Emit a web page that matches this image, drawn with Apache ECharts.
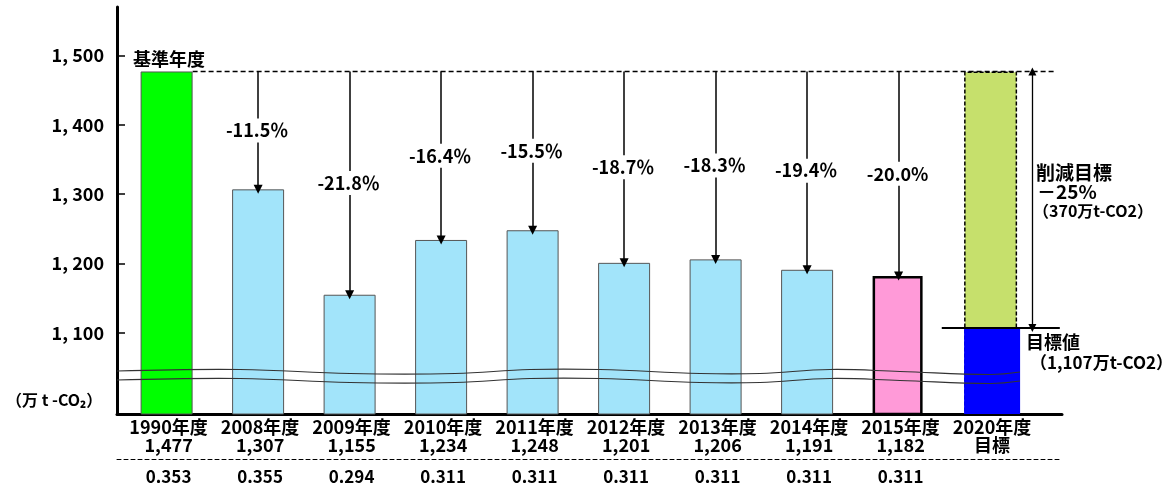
<!DOCTYPE html>
<html>
<head>
<meta charset="utf-8">
<script src="https://cdn.jsdelivr.net/npm/echarts@6/dist/echarts.min.js"></script>
<style>
html,body{margin:0;padding:0;background:#fff;}
#c{width:1166px;height:488px;}
</style>
</head>
<body>
<div id="c"></div>
<script>
// ---- data ----
const categories = ['1990年度','2008年度','2009年度','2010年度','2011年度','2012年度','2013年度','2014年度','2015年度','2020年度'];
const valueLabels = ['1,477','1,307','1,155','1,234','1,248','1,201','1,206','1,191','1,182','目標'];
const emissions = [1477, 1307, 1155, 1234, 1248, 1201, 1206, 1191, 1182];
const factors = ['0.353','0.355','0.294','0.311','0.311','0.311','0.311','0.311','0.311'];
const changes = ['-11.5％','-21.8％','-16.4％','-15.5％','-18.7％','-18.3％','-19.4％','-20.0%'];
const targetValue = 1107;
const reduction = 370;
const yTicks = [1100, 1200, 1300, 1400, 1500];

// ---- chart ----
const FONT = '"Noto Sans CJK JP", "Noto Sans", sans-serif';
const base = emissions[0];
const idx = categories.map((_, i) => i);
const halfBar = 26 / 91.5;

const chart = echarts.init(document.getElementById('c'), null, {renderer: 'canvas'});

const arrowLines = emissions.slice(1).map((v, k) => [
  {coord: [k + 1, base]},
  {coord: [k + 1, v]}
]);
const arrowLabels = emissions.slice(1).map((v, k) => ({
  coord: [k + 1, (base + v) / 2],
  value: changes[k]
}));

const wavyTop = [[117,371],[240,369.5],[350,373.5],[455,373.5],[530,369.5],[600,369.5],[700,373.5],[760,373.5],[830,369.5],[900,371.5],[990,374.5],[1020,372]];
const wavyBot = wavyTop.map(p => [p[0], p[1] + 9]);

const option = {
  animation: false,
  backgroundColor: '#fff',
  textStyle: {fontFamily: FONT},
  grid: {left: 117, right: 104, top: 7, bottom: 74, containLabel: false},
  xAxis: [{
    type: 'value', min: -0.564, max: 9.764,
    splitLine: {show: false},
    axisTick: {show: false},
    axisLine: {show: true, onZero: false, lineStyle: {color: '#000', width: 3}},
    axisLabel: {
      customValues: idx,
      margin: 4,
      color: '#000', fontSize: 18, fontWeight: 'bold', lineHeight: 18, fontFamily: FONT,
      formatter: v => categories[Math.round(v)] + '\n' + valueLabels[Math.round(v)]
    }
  }, {
    type: 'value', min: -0.564, max: 9.764, position: 'bottom', offset: 45,
    splitLine: {show: false},
    axisTick: {show: false},
    axisLine: {show: true, onZero: false, lineStyle: {color: '#000', width: 1, type: [4, 3]}},
    axisLabel: {
      customValues: factors.map((_, i) => i),
      margin: 9,
      color: '#000', fontSize: 17, fontWeight: 'bold', fontFamily: FONT,
      formatter: v => factors[Math.round(v)]
    }
  }],
  yAxis: {
    type: 'value', min: 983, max: 1570,
    splitLine: {show: false},
    axisLine: {show: true, onZero: false, lineStyle: {color: '#000', width: 3}},
    axisTick: {show: true, inside: true, length: 8, customValues: yTicks, lineStyle: {color: '#000', width: 1.5}},
    axisLabel: {
      customValues: yTicks, margin: 13,
      color: '#000', fontSize: 18, fontWeight: 'bold', fontFamily: FONT,
      formatter: v => String(v).replace(/(\d)(\d{3})$/, '$1, $2')
    }
  },
  series: [
    {
      name: 'base', type: 'bar', clip: true, barWidth: 52, barGap: '-100%',
      data: [[0, emissions[0]]],
      itemStyle: {color: '#00FF00', borderColor: '#555', borderWidth: 1},
      markLine: {
        silent: true, symbol: ['none', 'none'], z: 6,
        lineStyle: {color: '#000', width: 1.3, type: [5, 3]},
        label: {show: false},
        data: [[{coord: [halfBar, base]}, {coord: [9.72, base]}]]
      }
    },
    {
      name: 'results', type: 'bar', clip: true, barWidth: 52, barGap: '-100%',
      data: emissions.slice(1, 8).map((v, k) => [k + 1, v]),
      itemStyle: {color: '#A2E4FA', borderColor: '#555', borderWidth: 1},
      markLine: {
        silent: true, symbol: ['none', 'triangle'], symbolSize: [9, 9], z: 6,
        lineStyle: {color: '#000', width: 1.5, type: 'solid'},
        label: {show: false},
        data: arrowLines
      }
    },
    {
      name: 'latest', type: 'bar', clip: true, barWidth: 50, barGap: '-100%',
      data: [[8, emissions[8]]],
      itemStyle: {color: '#FF9AD8', borderColor: '#000', borderWidth: 2.5},
      markPoint: {
        silent: true, z: 10, symbol: 'rect', symbolSize: 1,
        itemStyle: {color: 'rgba(0,0,0,0)'},
        label: {
          show: true, position: 'inside', formatter: p => p.value,
          color: '#000', fontSize: 18, fontWeight: 'bold', fontFamily: FONT,
          backgroundColor: '#fff', padding: [3, 2]
        },
        data: arrowLabels
      }
    },
    {
      name: 'reduction', type: 'bar', clip: true, barWidth: 53, barGap: '-100%',
      data: [[9, targetValue + reduction]],
      itemStyle: {color: '#C6E06C', borderColor: '#000', borderWidth: 1.5, borderType: [4, 2]}
    },
    {
      name: 'target', type: 'bar', clip: true, barWidth: 56, barGap: '-100%',
      data: [[9, targetValue]],
      itemStyle: {color: '#0000FF'},
      markLine: {
        silent: true, z: 6,
        label: {show: false},
        data: [
          [{coord: [8.45, targetValue], symbol: 'none', lineStyle: {color: '#000', width: 2, type: 'solid'}},
           {coord: [9.74, targetValue], symbol: 'none'}],
          [{coord: [9.44, base], symbol: 'triangle', symbolSize: 8, lineStyle: {color: '#000', width: 1.3, type: 'solid'}},
           {coord: [9.44, targetValue], symbol: 'triangle', symbolSize: 8}]
        ]
      }
    }
  ],
  graphic: [
    {type: 'polyline', z: 50, silent: true, shape: {points: wavyTop, smooth: 0.4}, style: {stroke: '#333', lineWidth: 1.2, fill: null}},
    {type: 'polyline', z: 50, silent: true, shape: {points: wavyBot, smooth: 0.4}, style: {stroke: '#333', lineWidth: 1.2, fill: null}},
    {type: 'text', z: 60, left: 133, top: 50, style: {text: '基準年度', font: 'bold 18px ' + FONT, fill: '#000'}},
    {type: 'text', z: 60, left: 6, top: 392, style: {text: '（万 t -CO₂）', font: 'bold 16px ' + FONT, fill: '#000'}},
    {type: 'text', z: 60, left: 1036, top: 163, style: {text: '削減目標', font: 'bold 19px ' + FONT, fill: '#000'}},
    {type: 'text', z: 60, left: 1037, top: 182, style: {text: '－25%', font: 'bold 19px ' + FONT, fill: '#000'}},
    {type: 'text', z: 60, left: 1033, top: 203, style: {text: '（370万t-CO2）', font: 'bold 16px ' + FONT, fill: '#000'}},
    {type: 'text', z: 60, left: 1026, top: 333, style: {text: '目標値', font: 'bold 18px ' + FONT, fill: '#000'}},
    {type: 'text', z: 60, left: 1030, top: 354, style: {text: '（1,107万t-CO2）', font: 'bold 17px ' + FONT, fill: '#000'}}
  ]
};
chart.setOption(option);
</script>
</body>
</html>
